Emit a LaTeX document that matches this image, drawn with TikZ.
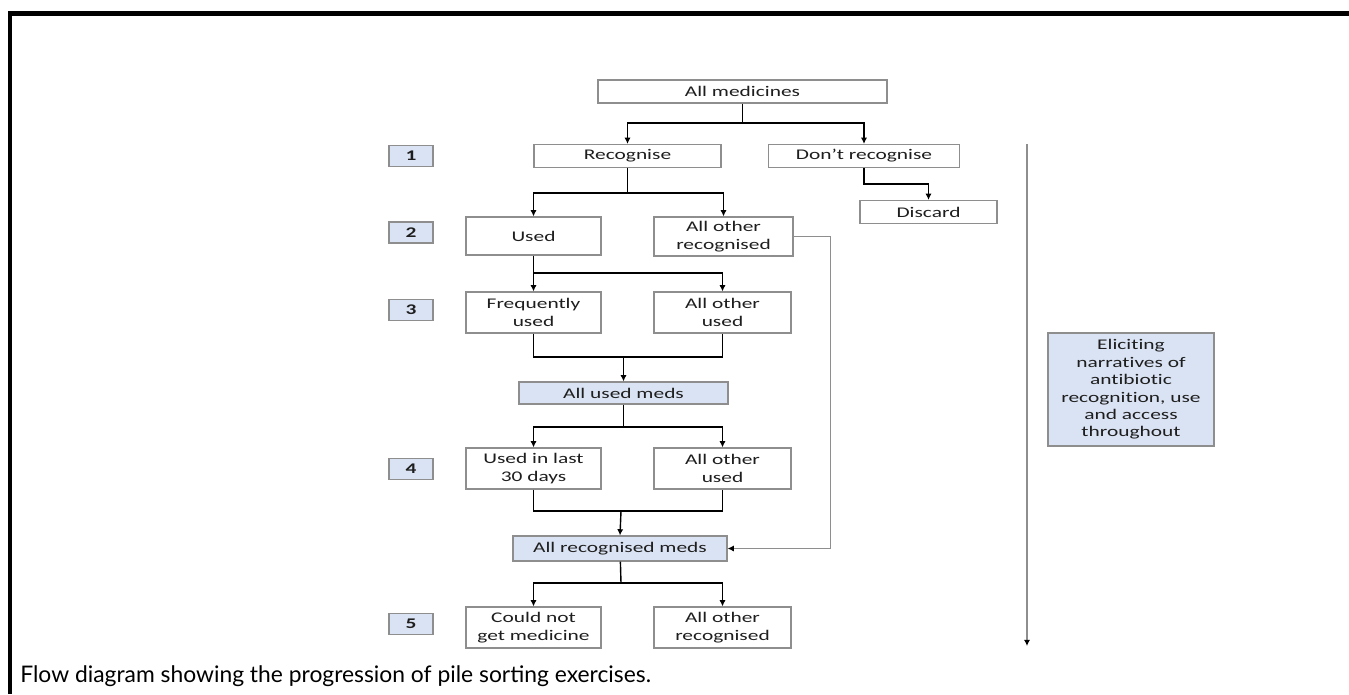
\documentclass[tikz,border=0pt]{standalone}
\usepackage{fontspec}
\usetikzlibrary{arrows.meta}

\newfontfamily\diagfont{Carlito}[FakeStretch=1.45, Ligatures=NoCommon]
\newfontfamily\capfont{Lato}

\definecolor{boxline}{HTML}{8E8E8E}
\definecolor{paleblue}{HTML}{DAE3F3}
\definecolor{inkgray}{HTML}{1E1E1E}

\def\pxl{0.02cm}

\tikzset{
	pile/.style = {draw = boxline, line width = 0.7pt, fill = white, text = inkgray,
		align = center, inner sep = 0pt, font = \diagfont\fontsize{8.4}{9.9}\selectfont},
	pool/.style = {pile, fill = paleblue},
	stage/.style = {pool, minimum width = 44*\pxl, minimum height = 21*\pxl, font = \diagfont\bfseries\fontsize{8.4}{9.9}\selectfont},
	link/.style = {line width = 0.8pt, black}
}

\begin{document}
\begin{tikzpicture}[x = \pxl, y = -\pxl, > = {Latex[length = 3.5pt, width = 3.5pt]}]

% Definitions

\def\W{135}		% Width of the small piles
\def\H{41}		% Height of the two line piles

\useasboundingbox (0, 0) rectangle (1349, 694);

% Frame

\draw [line width = 2.3pt] (10, 694) -- (10, 13.5) -- (1349, 13.5);

% Piles

\node [pile, minimum width = 289*\pxl, minimum height = 23*\pxl] (allmed) at (742.5, 91.5) {All medicines};

\node [pile, minimum width = 187*\pxl, minimum height = 23*\pxl] (recog) at (627.5, 156) {Recognise};
\node [pile, minimum width = 191*\pxl, minimum height = 23*\pxl] (dontrec) at (864, 156) {Don’t recognise};
\node [pile, minimum width = 137*\pxl, minimum height = 23*\pxl] (discard) at (928.5, 212) {Discard};

\node [pile, minimum width = \W*\pxl, minimum height = 38*\pxl] (used) at (533.5, 236) {Used};
\node [pile, minimum width = 139*\pxl, minimum height = 39*\pxl] (othrec) at (723.5, 236.5) {All other\\recognised};

\node [pile, minimum width = \W*\pxl, minimum height = \H*\pxl] (freq) at (533.5, 312.5) {Frequently\\used};
\node [pile, minimum width = 137*\pxl, minimum height = \H*\pxl] (othused) at (722.5, 312.5) {All other\\used};

\node [pool, minimum width = 209*\pxl, minimum height = 22*\pxl] (usedmeds) at (623.5, 393) {All used meds};

\node [pile, minimum width = \W*\pxl, minimum height = \H*\pxl] (lastmonth) at (533.5, 468.5) {Used in last\\30 days};
\node [pile, minimum width = 137*\pxl, minimum height = \H*\pxl] (othrecent) at (722.5, 468.5) {All other\\used};

\node [pool, minimum width = 214*\pxl, minimum height = 25*\pxl] (recmeds) at (620, 548.5) {All recognised meds};

\node [pile, minimum width = \W*\pxl, minimum height = \H*\pxl] (noaccess) at (533.5, 627.5) {Could not\\get medicine};
\node [pile, minimum width = 137*\pxl, minimum height = \H*\pxl] (othaccess) at (722.5, 627.5) {All other\\recognised};

% Stage numbers

\foreach \n/\y in {1/156, 2/232.5, 3/310, 4/469, 5/624}
	\node [stage] (stage\n) at (411, \y) {\n};

% Narratives

\node [pool, minimum width = 166*\pxl, minimum height = 113*\pxl] (narr) at (1131, 389.5)
	{Eliciting\\narratives of\\antibiotic\\recognition, use\\and access\\throughout};

\coordinate (tstart) at (1027, 144);
\coordinate (tend) at (1027, 646);
\draw [->, line width = 0.8pt, boxline, >={Latex[length = 3.5pt, width = 3.5pt, black]}] (tstart) -- (tend);

% Splits and merges

\coordinate (split1) at (742.5, 123);
\coordinate (split2) at (627.5, 193);
\coordinate (split3) at (533.5, 273);
\coordinate (merge3) at (623.5, 357);
\coordinate (split4) at (623.5, 427);
\coordinate (merge4) at (621, 511);
\coordinate (split5) at (621, 583);

\draw [link] (allmed) -- (split1);
\draw [link, ->] (split1) -| (recog.north);
\draw [link, ->] (split1) -| (dontrec.north);

\draw [link, ->] (dontrec.south) -- ++(0, 16) -| (discard.north);

\draw [link] (recog) -- (split2);
\draw [link, ->] (split2) -| (used.north);
\draw [link, ->] (split2) -| (othrec.north);

\draw [link, ->] (used) -- (freq);
\draw [link, ->] (split3) -| (othused.north);

\draw [link] (freq.south) |- (merge3) -| (othused.south);
\draw [link, ->] (merge3) -- (usedmeds.north);

\draw [link] (usedmeds) -- (split4);
\draw [link, ->] (split4) -| (lastmonth.north);
\draw [link, ->] (split4) -| (othrecent.north);

\draw [link] (lastmonth.south) |- (merge4) -| (othrecent.south);
\draw [link, ->] (merge4) -- (recmeds.north);

\draw [link] (recmeds) -- (split5);
\draw [link, ->] (split5) -| (noaccess.north);
\draw [link, ->] (split5) -| (othaccess.north);

\draw [line width = 0.7pt, boxline, ->, >={Latex[length = 3.5pt, width = 3.5pt, black]}] (othrec.east) -- ++(37, 0) |- (recmeds.east);

% Caption

\node [anchor = base west, inner sep = 0pt, font = \capfont\fontsize{13}{16}\selectfont] (caption) at (20, 682)
	{Flow diagram showing the progression of pile sorting exercises.};

\end{tikzpicture}
\end{document}
